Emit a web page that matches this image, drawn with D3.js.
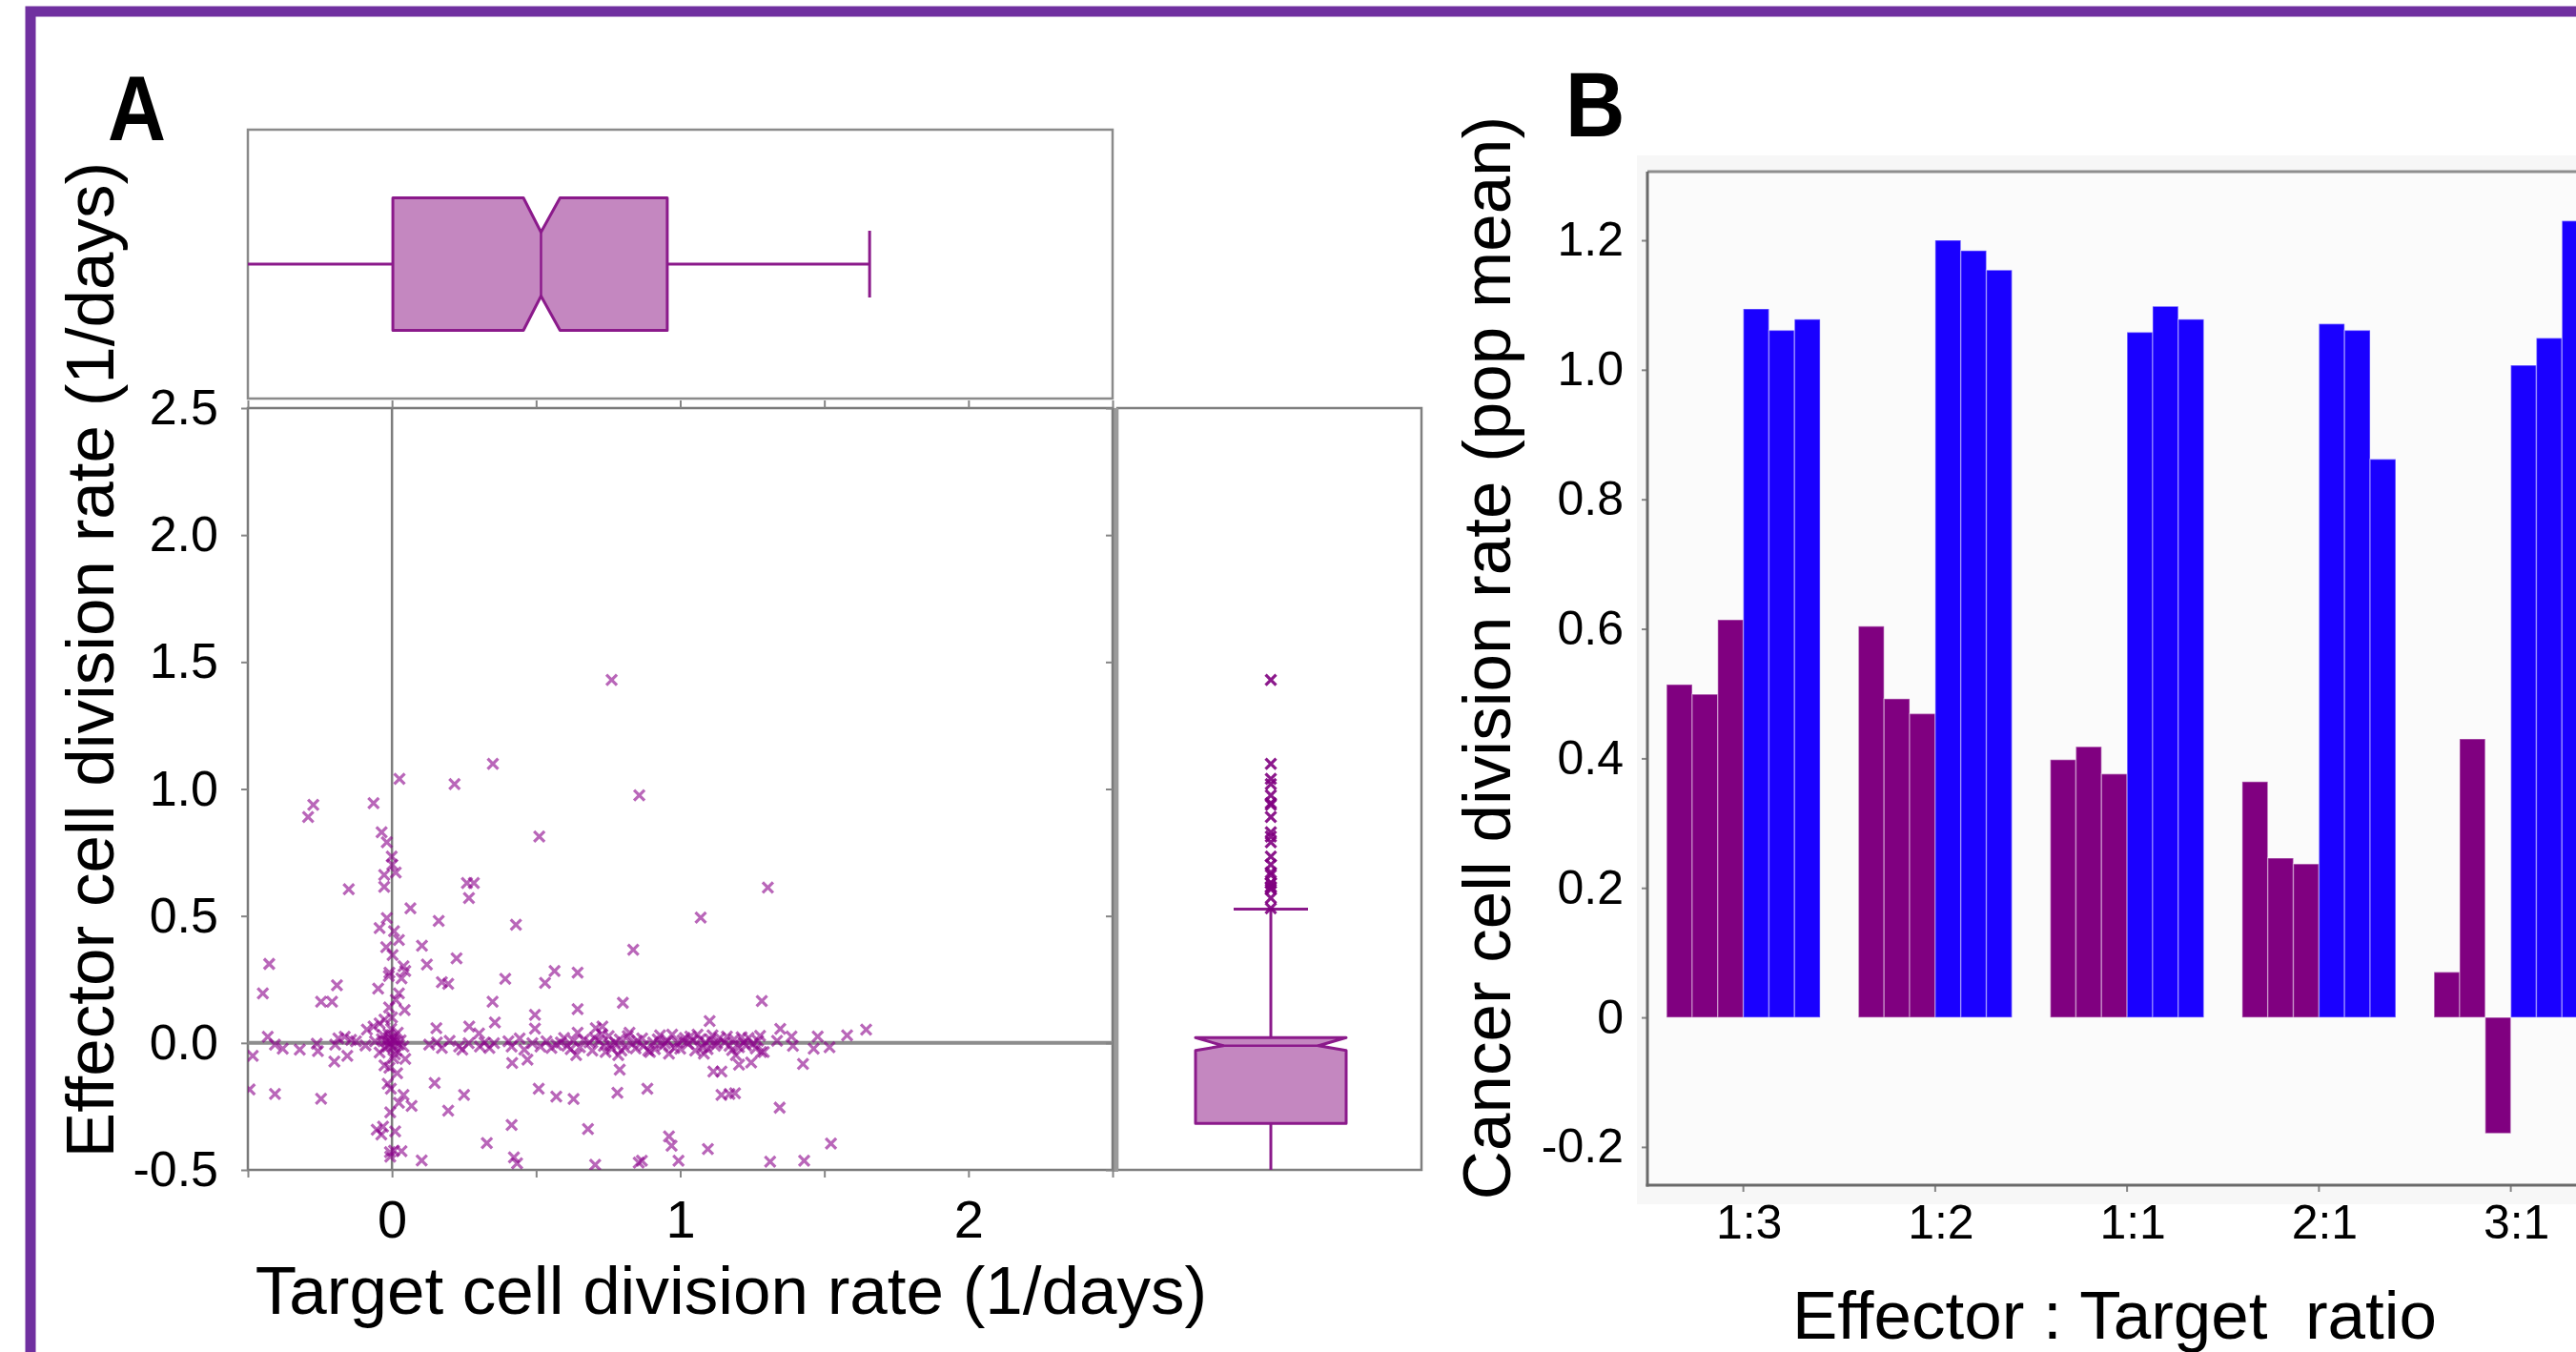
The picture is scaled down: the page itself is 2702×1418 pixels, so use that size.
<!DOCTYPE html>
<html><head><meta charset="utf-8">
<script src="https://cdn.jsdelivr.net/npm/d3@7"></script>
<style>
body{margin:0;background:#fff}
svg{display:block}
text{font-family:"Liberation Sans",Arial,sans-serif;fill:#000}
</style>
</head><body>
<svg id="c" width="2702" height="1418"></svg>
<script>
// ---------------- DATA ----------------
// Panel A: scatter of [target division rate, effector division rate] (1/days)
const scatterPoints = [
[0.762,1.429],[0.350,1.099],[0.026,1.040],[0.217,1.019],[0.858,0.975],[-0.273,0.938],[-0.064,0.944],[-0.291,0.890],[-0.036,0.830],[-0.018,0.790],[0.511,0.813],[-0.001,0.734],[0.001,0.702],[0.013,0.671],[-0.027,0.662],[-0.150,0.605],[-0.027,0.615],[0.260,0.630],[0.284,0.630],[0.267,0.571],[1.304,0.612],[0.064,0.530],[1.071,0.494],[-0.018,0.492],[0.162,0.480],[0.430,0.465],
[-0.043,0.452],[0.007,0.440],[0.024,0.405],[-0.020,0.377],[0.002,0.346],[0.104,0.383],[-0.426,0.311],[0.121,0.309],[0.224,0.333],[0.040,0.302],[-0.009,0.277],[0.046,0.283],[0.033,0.254],[-0.011,0.264],[-0.448,0.195],[-0.191,0.227],[-0.246,0.162],[-0.208,0.162],[-0.048,0.214],[0.024,0.195],[0.013,0.170],[0.044,0.129],[0.173,0.239],[0.195,0.233],[0.393,0.252],[0.531,0.236],[0.564,0.283],[0.349,0.162],[0.357,0.081],[0.496,0.111],[0.496,0.056],[0.154,0.058],[0.268,0.065],[0.302,0.037],[-0.026,0.092],[-0.064,0.065],[-0.087,0.052],[-0.043,0.077],[-0.431,0.024],
[-0.483,-0.051],[-0.406,-0.007],[-0.379,-0.023],[-0.320,-0.026],[-0.261,-0.003],[-0.257,-0.032],[-0.197,-0.007],[-0.186,0.018],[-0.164,0.024],[-0.142,0.012],[-0.125,0.006],[-0.155,-0.051],[-0.200,-0.073],[-0.092,-0.010],[-0.059,0.006],[-0.031,0.031],[-0.009,0.018],[-0.004,-0.001],[-0.015,-0.014],[0.002,-0.014],[0.013,0.006],[0.024,-0.007],[0.040,-0.014],[-0.020,0.006],[0.007,0.024],[-0.043,-0.038],[-0.026,-0.088],[-0.009,-0.098],[0.018,-0.119],[0.046,-0.063],[-0.015,-0.161],[-0.004,-0.180],[0.040,-0.205],[0.024,-0.236],[0.068,-0.248],[-0.006,-0.273],[-0.053,-0.342],[-0.031,-0.330],[-0.037,-0.361],[0.011,-0.348],[-0.007,-0.430],[0.007,-0.424],[0.033,-0.426],[-0.006,-0.448],[0.103,-0.463],[-0.494,-0.183],[-0.406,-0.201],[-0.246,-0.220],[0.148,-0.158],[0.250,-0.205],[0.195,-0.267],[0.509,-0.180],[0.415,-0.323],[0.329,-0.394],[0.423,-0.451],[0.434,-0.474],[0.417,-0.079],[0.470,-0.066],[0.570,-0.211],
[0.005,0.012],[-0.012,0.035],[0.015,-0.030],[-0.003,0.055],[0.020,0.040],[-0.025,-0.020],[0.030,0.010],[-0.035,0.015],[0.010,-0.045],[0.000,0.100],[-0.010,0.140],[0.005,-0.060],
[0.129,-0.007],[0.156,0.002],[0.173,-0.020],[0.200,0.008],[0.233,-0.014],[0.244,-0.026],[0.266,-0.001],[0.305,-0.014],[0.321,0.002],[0.338,-0.020],[0.354,-0.001],[0.404,0.006],[0.415,-0.014],[0.443,0.018],[0.459,-0.026],[0.487,-0.001],[0.515,-0.014],[0.536,0.006],[0.553,-0.020],[0.570,-0.007],
[0.837,0.367],[0.644,0.277],[0.644,0.133],[0.801,0.158],[1.283,0.165],[1.102,0.086],[0.644,0.040],[0.707,0.058],[0.730,0.065],[1.347,0.055],[1.386,0.025],[1.477,0.025],[1.579,0.030],[1.645,0.052],
[0.586,0.002],[0.608,-0.011],[0.630,0.008],[0.652,-0.017],[0.685,0.002],[0.702,0.020],[0.718,0.008],[0.735,-0.011],[0.752,0.027],[0.763,-0.023],[0.774,0.002],[0.790,0.014],[0.807,-0.017],[0.818,0.027],[0.834,-0.004],[0.851,0.008],[0.873,-0.011],[0.889,-0.030],[0.906,0.002],[0.922,0.014],[0.939,-0.011],[0.956,0.008],[0.972,0.033],[0.989,0.002],[1.000,-0.023],[1.016,0.020],[1.027,-0.004],[1.044,0.008],[1.060,0.033],[1.077,-0.017],[1.088,0.002],[1.104,0.014],[1.121,-0.011],[1.137,0.020],[1.154,0.002],[1.171,-0.011],[1.187,0.014],[1.204,-0.017],[1.220,0.002],[1.237,0.020],[1.253,-0.004],[1.270,0.008],[0.639,-0.048],[0.741,-0.036],[0.785,-0.048],[0.895,-0.036],[0.961,-0.042],[1.082,-0.042],[1.193,-0.048],[1.281,-0.036],[1.336,0.008],[1.391,-0.011],[1.463,-0.023],[1.518,-0.017],
[0.597,0.020],[0.620,-0.025],[0.665,0.012],[0.695,-0.030],[0.728,0.035],[0.757,-0.008],[0.796,-0.030],[0.824,0.040],[0.845,-0.022],[0.868,0.018],[0.912,-0.025],[0.930,0.030],[0.948,-0.002],[0.980,-0.020],[1.008,0.010],[1.035,0.025],[1.052,-0.030],[1.070,0.015],[1.095,-0.025],[1.112,0.030],[1.128,-0.002],[1.162,0.025],[1.180,-0.028],[1.213,0.022],[1.228,-0.010],[1.262,-0.022],[1.277,0.028],
[0.790,-0.105],[0.630,-0.221],[0.782,-0.196],[0.886,-0.180],[1.115,-0.113],[1.143,-0.113],[1.204,-0.086],[1.246,-0.077],[1.426,-0.083],[1.290,-0.036],[1.143,-0.205],[1.171,-0.201],[1.190,-0.198],[1.345,-0.255],[0.680,-0.339],[0.961,-0.368],[0.970,-0.405],[1.096,-0.418],[1.523,-0.396],[0.705,-0.480],[0.856,-0.471],[0.867,-0.464],[0.994,-0.464],[1.312,-0.468],[1.430,-0.464]
];
// Box-plot summaries: [whiskerLow, q1, notchLow, median, notchHigh, q3, whiskerHigh]
const targetBoxStats   = [-0.5, 0.003, 0.456, 0.517, 0.583, 0.955, 1.657];
const effectorBoxStats = [-0.5, -0.317, -0.030, -0.011, 0.021, 0.021, 0.527];
const axisATicks = [-0.5, 0, 0.5, 1, 1.5, 2, 2.5];

// Panel B
const ratios = ["1:3", "1:2", "1:1", "2:1", "3:1"];
const purpleRates = [[0.514,0.499,0.614],[0.604,0.492,0.469],[0.398,0.418,0.376],[0.364,0.246,0.237],[0.070,0.430,-0.179]];
const blueRates   = [[1.094,1.061,1.078],[1.200,1.184,1.154],[1.058,1.098,1.078],[1.071,1.061,0.862],[1.007,1.049,1.230]];
const axisBTicks = [-0.2, 0, 0.2, 0.4, 0.6, 0.8, 1.0, 1.2];

// ---------------- DRAW ----------------
const svg = d3.select("#c");
const PURPLE = "#8b1a8b", BOXFILL = "#c487c0", GRAY = "#858585";

// outer purple frame
svg.append("rect").attr("x",32).attr("y",12).attr("width",3000).attr("height",2000)
  .attr("fill","none").attr("stroke","#7030a0").attr("stroke-width",11);

// ===== Panel A =====
const xA = d3.scaleLinear().domain([-0.5,2.5]).range([260,1167]);
const yA = d3.scaleLinear().domain([-0.5,2.5]).range([1227,428]);

svg.append("clipPath").attr("id","clipA").append("rect")
  .attr("x",xA(-0.5)).attr("y",yA(2.5)).attr("width",xA(2.5)-xA(-0.5)).attr("height",yA(-0.5)-yA(2.5));

// top box frame
const topBoxY0 = 136, topBoxY1 = 418;
svg.append("rect").attr("x",xA(-0.5)).attr("y",topBoxY0).attr("width",xA(2.5)-xA(-0.5)).attr("height",topBoxY1-topBoxY0)
  .attr("fill","#fff").attr("stroke","#8a8a8a").attr("stroke-width",2.5);
// right box frame
const rbX0 = 1172, rbX1 = 1491;
svg.append("rect").attr("x",rbX0).attr("y",yA(2.5)).attr("width",rbX1-rbX0).attr("height",yA(-0.5)-yA(2.5))
  .attr("fill","#fff").attr("stroke","#7f7f7f").attr("stroke-width",2.5);
svg.append("line").attr("x1",1170).attr("x2",1170).attr("y1",yA(2.5)).attr("y2",yA(-0.5)+2)
  .attr("stroke","#9a9a9a").attr("stroke-width",6);

// scatter frame
svg.append("rect").attr("x",xA(-0.5)).attr("y",yA(2.5)).attr("width",xA(2.5)-xA(-0.5)).attr("height",yA(-0.5)-yA(2.5))
  .attr("fill","none").attr("stroke","#7a7a7a").attr("stroke-width",2.5);

// zero lines
svg.append("line").attr("x1",xA(-0.5)).attr("x2",xA(2.5)).attr("y1",yA(0)).attr("y2",yA(0))
  .attr("stroke","#8d8d8d").attr("stroke-width",4);
svg.append("line").attr("x1",xA(0)).attr("x2",xA(0)).attr("y1",yA(2.5)).attr("y2",yA(-0.5))
  .attr("stroke","#7d7d7d").attr("stroke-width",2.5);

function styleAxis(g, fs){
  g.select(".domain").remove();
  g.selectAll(".tick line").attr("stroke",GRAY).attr("stroke-width",2);
  g.selectAll(".tick text").attr("font-size",fs).attr("fill","#000")
    .attr("font-family","'Liberation Sans',Arial,sans-serif");
}
const fmt1 = d => d.toFixed(1);
// left axis
svg.append("g").attr("transform",`translate(${xA(-0.5)},0)`)
  .call(d3.axisLeft(yA).tickValues(axisATicks).tickSize(7).tickPadding(24).tickFormat(fmt1))
  .call(g=>styleAxis(g,52));
// bottom axis
svg.append("g").attr("transform",`translate(0,${yA(-0.5)})`)
  .call(d3.axisBottom(xA).tickValues(axisATicks).tickSize(8).tickPadding(23)
    .tickFormat(d => Number.isInteger(d) ? String(d) : ""))
  .call(g=>styleAxis(g,56));
// top axis ticks
svg.append("g").attr("transform",`translate(0,${yA(2.5)})`)
  .call(d3.axisTop(xA).tickValues(axisATicks).tickSize(8).tickFormat(""))
  .call(g=>styleAxis(g,10));
// right inner ticks
svg.append("g").attr("transform",`translate(${xA(2.5)},0)`)
  .call(d3.axisLeft(yA).tickValues(axisATicks).tickSize(7).tickFormat(""))
  .call(g=>styleAxis(g,10));

// scatter markers
const xMark = "M-5.5,-5.5L5.5,5.5M-5.5,5.5L5.5,-5.5";
svg.append("g").attr("clip-path","url(#clipA)").selectAll("path.pt").data(scatterPoints).join("path")
  .attr("class","pt").attr("d",xMark)
  .attr("transform",d=>`translate(${xA(d[0])},${yA(d[1])})`)
  .attr("fill","none").attr("stroke","#8b008b").attr("stroke-opacity",0.6).attr("stroke-width",3.2);

// top (horizontal) notched box: target rate
(function(){
  const [wlo,q1,nlo,med,nhi,q3,whi] = targetBoxStats;
  const cy = (topBoxY0+topBoxY1)/2, hh = 69.5, ind = 36, cap = 35;
  const g = svg.append("g").attr("clip-path","url(#clipTop)");
  svg.append("clipPath").attr("id","clipTop").append("rect").attr("x",xA(-0.5)).attr("y",topBoxY0).attr("width",xA(2.5)-xA(-0.5)).attr("height",topBoxY1-topBoxY0);
  g.append("line").attr("x1",xA(wlo)).attr("x2",xA(q1)).attr("y1",cy).attr("y2",cy).attr("stroke",PURPLE).attr("stroke-width",3);
  g.append("line").attr("x1",xA(q3)).attr("x2",xA(whi)).attr("y1",cy).attr("y2",cy).attr("stroke",PURPLE).attr("stroke-width",3);
  g.append("line").attr("x1",xA(whi)).attr("x2",xA(whi)).attr("y1",cy-cap).attr("y2",cy+cap).attr("stroke",PURPLE).attr("stroke-width",3);
  const p = d3.path();
  p.moveTo(xA(q1),cy-hh); p.lineTo(xA(nlo),cy-hh); p.lineTo(xA(med),cy-hh+ind); p.lineTo(xA(nhi),cy-hh);
  p.lineTo(xA(q3),cy-hh); p.lineTo(xA(q3),cy+hh); p.lineTo(xA(nhi),cy+hh); p.lineTo(xA(med),cy+hh-ind);
  p.lineTo(xA(nlo),cy+hh); p.lineTo(xA(q1),cy+hh); p.closePath();
  g.append("path").attr("d",p.toString()).attr("fill",BOXFILL).attr("stroke",PURPLE).attr("stroke-width",3).attr("stroke-linejoin","round");
  g.append("line").attr("x1",xA(med)).attr("x2",xA(med)).attr("y1",cy-hh+ind).attr("y2",cy+hh-ind).attr("stroke",PURPLE).attr("stroke-width",2.5);
})();

// right (vertical) notched box: effector rate
(function(){
  const [wlo,q1,nlo,med,nhi,q3,whi] = effectorBoxStats;
  const cx = 1333, hw = 79, ind = 29, cap = 39;
  const g = svg.append("g").attr("clip-path","url(#clipRight)");
  svg.append("clipPath").attr("id","clipRight").append("rect").attr("x",rbX0).attr("y",yA(2.5)).attr("width",rbX1-rbX0).attr("height",yA(-0.5)-yA(2.5));
  g.append("line").attr("x1",cx).attr("x2",cx).attr("y1",yA(q1)).attr("y2",yA(wlo)).attr("stroke",PURPLE).attr("stroke-width",3);
  g.append("line").attr("x1",cx).attr("x2",cx).attr("y1",yA(q3)).attr("y2",yA(whi)).attr("stroke",PURPLE).attr("stroke-width",3);
  g.append("line").attr("x1",cx-cap).attr("x2",cx+cap).attr("y1",yA(whi)).attr("y2",yA(whi)).attr("stroke",PURPLE).attr("stroke-width",3);
  const p = d3.path();
  p.moveTo(cx-hw,yA(q1)); p.lineTo(cx-hw,yA(nlo)); p.lineTo(cx-hw+ind,yA(med)); p.lineTo(cx-hw,yA(nhi));
  p.lineTo(cx-hw,yA(q3)); p.lineTo(cx+hw,yA(q3)); p.lineTo(cx+hw,yA(nhi)); p.lineTo(cx+hw-ind,yA(med));
  p.lineTo(cx+hw,yA(nlo)); p.lineTo(cx+hw,yA(q1)); p.closePath();
  g.append("path").attr("d",p.toString()).attr("fill",BOXFILL).attr("stroke",PURPLE).attr("stroke-width",3).attr("stroke-linejoin","round");
  g.append("line").attr("x1",cx-hw+ind).attr("x2",cx+hw-ind).attr("y1",yA(med)).attr("y2",yA(med)).attr("stroke",PURPLE).attr("stroke-width",2.5);
  // outliers derived from the scatter data
  const outl = scatterPoints.map(d=>d[1]).filter(v => v > whi);
  g.selectAll("path.out").data(outl).join("path").attr("class","out").attr("d",xMark)
    .attr("transform",v=>`translate(${cx},${yA(v)})`)
    .attr("fill","none").attr("stroke","#800080").attr("stroke-opacity",0.9).attr("stroke-width",3.2);
})();

// Panel A labels
svg.append("text").attr("transform","translate(113,147) scale(0.88,1)").attr("font-size",96).attr("font-weight","bold").text("A");
svg.append("text").attr("transform","translate(119,692) rotate(-90)").attr("text-anchor","middle").attr("font-size",71)
  .text("Effector cell division rate (1/days)");
svg.append("text").attr("x",767).attr("y",1378).attr("text-anchor","middle").attr("font-size",71)
  .text("Target cell division rate (1/days)");

// ===== Panel B =====
const xB = d3.scaleBand().domain(ratios).range([1728, 1728 + 5*201.25]).paddingInner(0.2).paddingOuter(0.1);
const sub = d3.scaleBand().domain(d3.range(6)).range([0, xB.bandwidth()]);
const yB = d3.scaleLinear().domain([-0.259, 1.306]).range([1243, 180]);

svg.append("rect").attr("x",1717).attr("y",163).attr("width",1100).attr("height",1263-163).attr("fill","#f7f7f7");
svg.append("rect").attr("x",1728).attr("y",yB(1.306)).attr("width",1100).attr("height",yB(-0.259)-yB(1.306)).attr("fill","#fbfbfb");
svg.append("line").attr("x1",1728).attr("x2",2702).attr("y1",yB(1.306)).attr("y2",yB(1.306)).attr("stroke","#8e8e8e").attr("stroke-width",3);

// bars
const barData = [];
ratios.forEach((r,i)=>{
  purpleRates[i].forEach((v,j)=>barData.push({r, k:j, v, c:"#800080"}));
  blueRates[i].forEach((v,j)=>barData.push({r, k:3+j, v, c:"#1a00ff"}));
});
svg.append("g").selectAll("rect").data(barData).join("rect")
  .attr("x",d=>xB(d.r)+sub(d.k)).attr("width",sub.bandwidth())
  .attr("y",d=>yB(Math.max(0,d.v))).attr("height",d=>Math.abs(yB(d.v)-yB(0)))
  .attr("fill",d=>d.c).attr("stroke","rgba(255,255,255,0.35)").attr("stroke-width",1.5);

// axes B
const fmtB = d => d === 0 ? "0" : d.toFixed(1);
svg.append("g").attr("transform","translate(1728,0)")
  .call(d3.axisLeft(yB).tickValues(axisBTicks).tickSize(6).tickSizeOuter(0).tickPadding(19).tickFormat(fmtB))
  .call(g=>styleAxis(g,50));
svg.append("line").attr("x1",1728).attr("x2",1728).attr("y1",yB(1.306)).attr("y2",yB(-0.259)+1.5).attr("stroke","#6a6a6a").attr("stroke-width",3);
svg.append("g").attr("transform",`translate(0,${yB(-0.259)})`)
  .call(d3.axisBottom(xB).tickSize(7).tickSizeOuter(0).tickPadding(13))
  .call(g=>styleAxis(g,50))
  .call(g=>g.selectAll(".tick text").attr("dx",6));
svg.append("line").attr("x1",1726.5).attr("x2",2702).attr("y1",yB(-0.259)).attr("y2",yB(-0.259)).attr("stroke","#6a6a6a").attr("stroke-width",3);

svg.append("text").attr("transform","translate(1642,143) scale(0.9,1)").attr("font-size",96).attr("font-weight","bold").text("B");
svg.append("text").attr("transform","translate(1584,690) rotate(-90)").attr("text-anchor","middle").attr("font-size",71)
  .text("Cancer cell division rate (pop mean)");
svg.append("text").attr("x",2218).attr("y",1404).attr("text-anchor","middle").attr("font-size",71)
  .style("white-space","pre").text("Effector : Target  ratio");
</script>
</body></html>
